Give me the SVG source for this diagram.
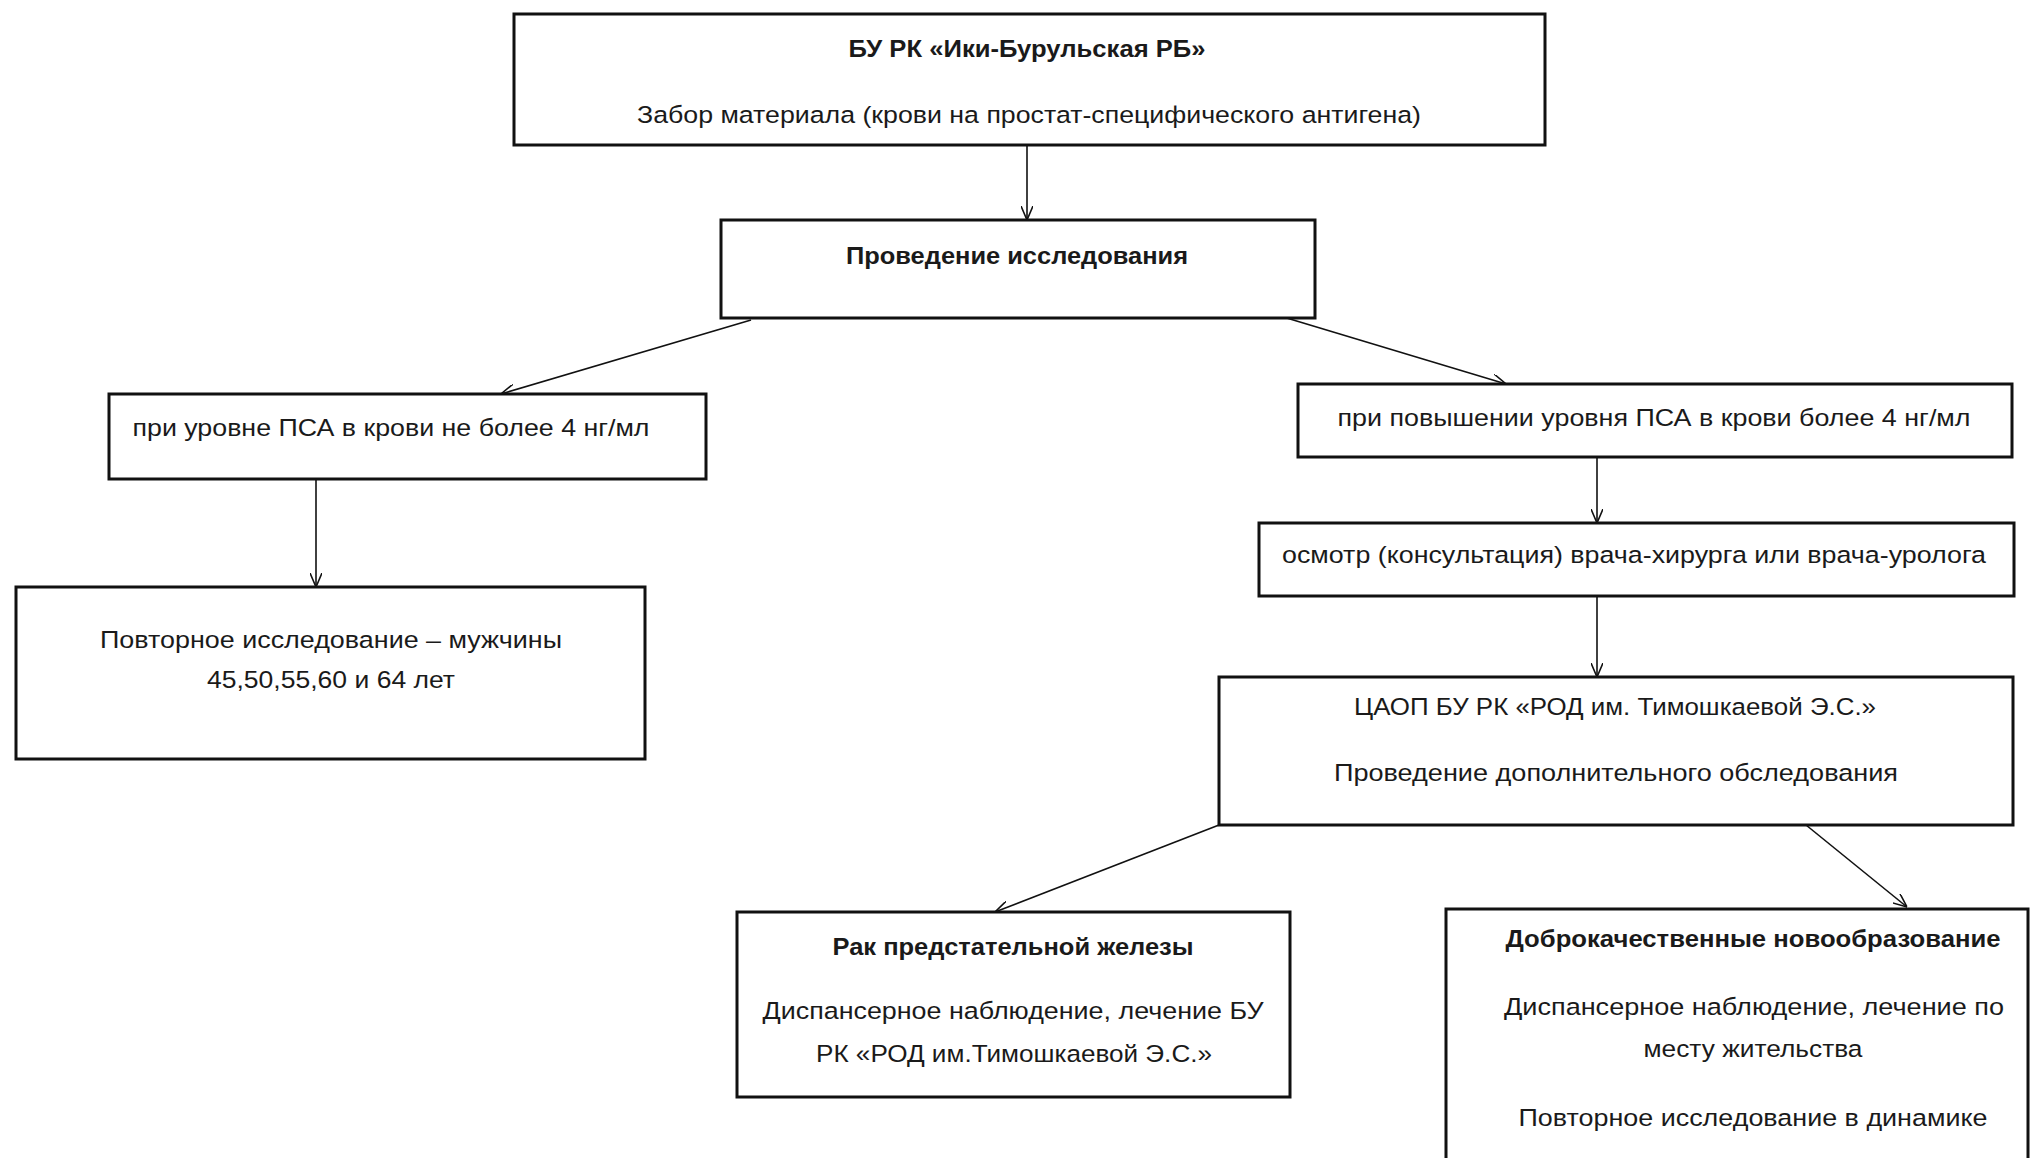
<svg xmlns="http://www.w3.org/2000/svg" width="2031" height="1158" viewBox="0 0 2031 1158">
<defs>
<marker id="arr" viewBox="0 0 14 12" refX="14" refY="6" markerWidth="14" markerHeight="12" markerUnits="userSpaceOnUse" orient="auto">
<path d="M0,0 L14,6 L0,12" fill="none" stroke="#111" stroke-width="1.6"/>
</marker>
<style>
.box{fill:#fff;stroke:#111;stroke-width:3}
.t{font-family:"Liberation Sans",Arial,sans-serif;font-size:24.5px;fill:#1a1a1a;text-anchor:middle}
.b{font-weight:bold}
.c{stroke:#111;stroke-width:1.6;fill:none;marker-end:url(#arr)}
</style>
</defs>
<rect width="2031" height="1158" fill="#fff"/>
<g id="connectors">
<line class="c" x1="1027" y1="145" x2="1027" y2="220"/>
<line class="c" x1="751" y1="320" x2="501" y2="394"/>
<line class="c" x1="1280" y1="316" x2="1506" y2="384"/>
<line class="c" x1="316" y1="479" x2="316" y2="587"/>
<line class="c" x1="1597" y1="457" x2="1597" y2="523"/>
<line class="c" x1="1597" y1="596" x2="1597" y2="677"/>
<line class="c" x1="1219" y1="825" x2="995" y2="912"/>
<line class="c" x1="1806" y1="825" x2="1907" y2="907"/>
</g>
<g id="n1">
<rect class="box" x="514" y="14" width="1031" height="131"/>
<text class="t b" x="1027" y="57" textLength="357" lengthAdjust="spacingAndGlyphs">БУ РК «Ики-Бурульская РБ»</text>
<text class="t" x="1029" y="123" textLength="784" lengthAdjust="spacingAndGlyphs">Забор материала (крови на простат-специфического антигена)</text>
</g>
<g id="n2">
<rect class="box" x="721" y="220" width="594" height="98"/>
<text class="t b" x="1017" y="264" textLength="342" lengthAdjust="spacingAndGlyphs">Проведение исследования</text>
</g>
<g id="n3">
<rect class="box" x="109" y="394" width="597" height="85"/>
<text class="t" x="391" y="436" textLength="517" lengthAdjust="spacingAndGlyphs">при уровне ПСА в крови не более 4 нг/мл</text>
</g>
<g id="n4">
<rect class="box" x="16" y="587" width="629" height="172"/>
<text class="t" x="331" y="648" textLength="462" lengthAdjust="spacingAndGlyphs">Повторное исследование – мужчины</text>
<text class="t" x="331" y="688" textLength="248" lengthAdjust="spacingAndGlyphs">45,50,55,60 и 64 лет</text>
</g>
<g id="n5">
<rect class="box" x="1298" y="384" width="714" height="73"/>
<text class="t" x="1654" y="426" textLength="633" lengthAdjust="spacingAndGlyphs">при повышении уровня ПСА в крови более 4 нг/мл</text>
</g>
<g id="n6">
<rect class="box" x="1259" y="523" width="755" height="73"/>
<text class="t" x="1634" y="563" textLength="704" lengthAdjust="spacingAndGlyphs">осмотр (консультация) врача-хирурга или врача-уролога</text>
</g>
<g id="n7">
<rect class="box" x="1219" y="677" width="794" height="148"/>
<text class="t" x="1615" y="715" textLength="522" lengthAdjust="spacingAndGlyphs">ЦАОП БУ РК «РОД им. Тимошкаевой Э.С.»</text>
<text class="t" x="1616" y="781" textLength="564" lengthAdjust="spacingAndGlyphs">Проведение дополнительного обследования</text>
</g>
<g id="n8">
<rect class="box" x="737" y="912" width="553" height="185"/>
<text class="t b" x="1013" y="955" textLength="361" lengthAdjust="spacingAndGlyphs">Рак предстательной железы</text>
<text class="t" x="1013" y="1019" textLength="501" lengthAdjust="spacingAndGlyphs">Диспансерное наблюдение, лечение БУ</text>
<text class="t" x="1014" y="1062" textLength="396" lengthAdjust="spacingAndGlyphs">РК «РОД им.Тимошкаевой Э.С.»</text>
</g>
<g id="n9">
<rect class="box" x="1446" y="909" width="582" height="260"/>
<text class="t b" x="1753" y="947" textLength="495" lengthAdjust="spacingAndGlyphs">Доброкачественные новообразование</text>
<text class="t" x="1754" y="1015" textLength="500" lengthAdjust="spacingAndGlyphs">Диспансерное наблюдение, лечение по</text>
<text class="t" x="1753" y="1057" textLength="219" lengthAdjust="spacingAndGlyphs">месту жительства</text>
<text class="t" x="1753" y="1126" textLength="469" lengthAdjust="spacingAndGlyphs">Повторное исследование в динамике</text>
</g>
</svg>
